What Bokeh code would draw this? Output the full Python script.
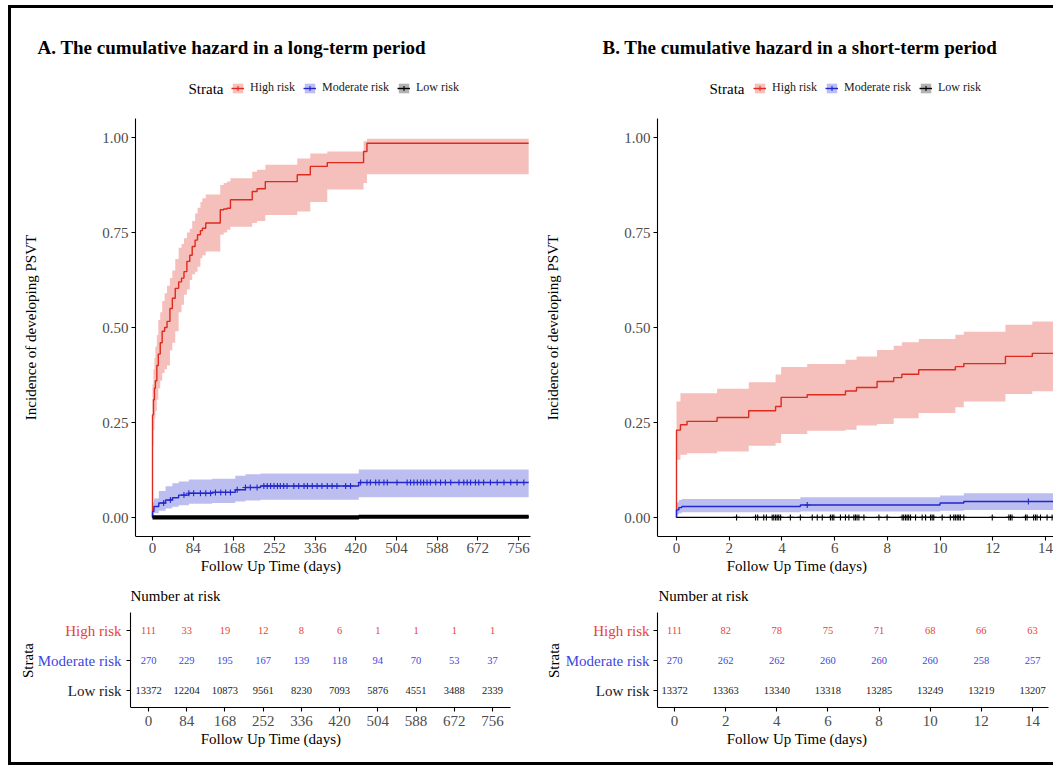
import numpy as np
from bokeh.plotting import figure
from bokeh.layouts import row, column
from bokeh.models import (ColumnDataSource, Label, Legend, LegendItem, FixedTicker,
                          NumeralTickFormatter, Div, Range1d)
from bokeh.core.properties import value
from bokeh.embed import file_html
from bokeh.resources import INLINE

FONT = "Liberation Serif"
STRATA = ["High risk", "Moderate risk", "Low risk"]

# ---------------- Panel A: long-term (days) ----------------
a_high_t = [0, 0, 2, 4, 6, 9, 12, 16, 20, 25, 30, 36, 41, 47, 54, 60, 65, 71, 77, 82,
            88, 93, 99, 103, 110, 140, 147, 154, 161, 206, 216, 233, 299, 326, 361, 436, 443, 777]
a_high_est = [0, 0.27, 0.31, 0.34, 0.36, 0.40, 0.43, 0.46, 0.49, 0.50, 0.516, 0.55, 0.577, 0.603, 0.62, 0.63, 0.647, 0.674, 0.69, 0.713,
              0.73, 0.744, 0.755, 0.761, 0.775, 0.81, 0.812, 0.814, 0.836, 0.858, 0.865, 0.884, 0.902, 0.924, 0.934, 0.963, 0.985, 0.985]
a_high_lo = [0, 0.19, 0.23, 0.26, 0.28, 0.31, 0.34, 0.36, 0.38, 0.39, 0.40, 0.44, 0.46, 0.49, 0.54, 0.56, 0.586, 0.60, 0.625, 0.64,
             0.647, 0.66, 0.682, 0.69, 0.70, 0.744, 0.75, 0.757, 0.765, 0.775, 0.78, 0.796, 0.805, 0.83, 0.863, 0.88, 0.903, 0.903]
a_high_hi = [0, 0.35, 0.39, 0.42, 0.45, 0.48, 0.52, 0.54, 0.57, 0.59, 0.61, 0.63, 0.65, 0.68, 0.71, 0.72, 0.735, 0.75, 0.76, 0.78,
             0.80, 0.815, 0.83, 0.84, 0.85, 0.875, 0.88, 0.884, 0.893, 0.91, 0.915, 0.928, 0.945, 0.958, 0.963, 0.99, 0.997, 0.997]

a_mod_t = [0, 0, 3, 13, 27, 41, 54, 75, 123, 171, 192, 223, 426, 777]
a_mod_est = [0, 0.016, 0.029, 0.038, 0.046, 0.052, 0.059, 0.064, 0.066, 0.073, 0.079, 0.083, 0.092, 0.092]
a_mod_lo = [0, 0.005, 0.011, 0.018, 0.024, 0.028, 0.032, 0.036, 0.038, 0.042, 0.045, 0.047, 0.053, 0.053]
a_mod_hi = [0, 0.04, 0.05, 0.07, 0.082, 0.09, 0.095, 0.10, 0.102, 0.11, 0.114, 0.116, 0.126, 0.126]

a_low_t = [0, 426, 777]
a_low_est = [0.0005, 0.002, 0.002]
a_low_lo = [0.0, 0.0005, 0.0005]
a_low_hi = [0.002, 0.004, 0.004]

a_high_cens = []
a_mod_cens = [23, 37, 65, 75, 85, 99, 110, 120, 130, 141, 151, 161, 175, 192, 202, 216, 230, 237, 244,
              251, 258, 264, 271, 278, 292, 302, 313, 320, 330, 340, 350, 361, 371, 381, 399, 409, 430,
              443, 450, 461, 468, 478, 485, 505, 526, 533, 540, 547, 554, 560, 567, 574, 585, 595, 605,
              616, 633, 643, 650, 657, 667, 674, 684, 698, 712, 726, 740, 753, 767]
a_low_cens = []

a_risk_t = [0, 84, 168, 252, 336, 420, 504, 588, 672, 756]
a_risk_high = [111, 33, 19, 12, 8, 6, 1, 1, 1, 1]
a_risk_mod = [270, 229, 195, 167, 139, 118, 94, 70, 53, 37]
a_risk_low = [13372, 12204, 10873, 9561, 8230, 7093, 5876, 4551, 3488, 2339]

# ---------------- Panel B: short-term (days) ----------------
b_high_t = [0, 0, 0.15, 0.4, 1.54, 2.74, 3.76, 3.97, 4.96, 6.41, 6.83, 7.61, 8.24, 8.55, 9.19, 10.58, 10.9, 12.48, 13.5, 14.3]
b_high_est = [0, 0.23, 0.244, 0.253, 0.263, 0.281, 0.292, 0.316, 0.323, 0.333, 0.342, 0.358, 0.368, 0.377, 0.389, 0.397, 0.405, 0.424, 0.432, 0.432]
b_high_lo = [0, 0.152, 0.165, 0.169, 0.174, 0.189, 0.196, 0.22, 0.228, 0.231, 0.242, 0.246, 0.261, 0.261, 0.275, 0.29, 0.305, 0.325, 0.332, 0.332]
b_high_hi = [0, 0.305, 0.327, 0.327, 0.339, 0.356, 0.376, 0.396, 0.404, 0.415, 0.424, 0.441, 0.452, 0.461, 0.47, 0.481, 0.489, 0.507, 0.516, 0.516]

b_mod_t = [0, 0, 0.09, 0.2, 4.7, 10.0, 10.9, 14.3]
b_mod_est = [0, 0.02, 0.026, 0.029, 0.033, 0.038, 0.042, 0.042]
b_mod_lo = [0, 0.008, 0.011, 0.014, 0.016, 0.018, 0.02, 0.02]
b_mod_hi = [0, 0.04, 0.046, 0.049, 0.053, 0.058, 0.064, 0.064]

b_low_t = [0, 14.3]
b_low_est = [0.0003, 0.0008]
b_low_lo = [0.0, 0.0]
b_low_hi = [0.0015, 0.002]

b_high_cens = []
b_mod_cens = [4.96, 13.35]
b_low_cens = [2.28, 3.0, 3.08, 3.31, 3.41, 3.63, 3.69, 3.76, 3.82, 3.88, 3.95, 4.32, 4.7, 5.15, 5.34,
              5.53, 5.84, 5.91, 5.97, 6.22, 6.41, 6.54, 6.73, 6.79, 6.85, 6.92, 7.11, 7.68, 7.99, 8.56,
              8.62, 8.69, 8.75, 8.81, 8.88, 9.07, 9.32, 9.45, 9.64, 9.7, 9.76, 10.08, 10.39, 10.52, 10.58,
              10.65, 10.71, 10.77, 10.9, 11.98, 12.61, 12.67, 12.73, 13.24, 13.3, 13.55, 13.62, 13.68,
              13.81, 14.06, 14.25]

b_risk_t = [0, 2, 4, 6, 8, 10, 12, 14]
b_risk_high = [111, 82, 78, 75, 71, 68, 66, 63]
b_risk_mod = [270, 262, 262, 260, 260, 260, 258, 257]
b_risk_low = [13372, 13363, 13340, 13318, 13285, 13249, 13219, 13207]

LINE_COLORS = ["#DF2A1F", "#2227CC", "#000000"]
TEXT_COLORS = ["#E6433A", "#3D45E2", "#1A1A1A"]
TICK_COLOR = "#4D4D4D"

# ---------------- layout geometry (page pixels) ----------------
TOP_Y = 8
MAIN_H = 572
RISK_H = 182
MAIN_FRAME_BOTTOM = 536
RISK_FRAME_BOTTOM = 707
PX_PER_UNIT_Y = 380.0
PX_PER_ROW = 30.0


def style_axis(ax):
    ax.axis_line_color = "black"
    ax.axis_line_width = 1.1
    ax.major_tick_line_color = "black"
    ax.major_tick_line_width = 1.1
    ax.major_tick_out = 4
    ax.major_tick_in = 0
    ax.minor_tick_line_color = None
    ax.major_label_text_font = FONT
    ax.major_label_text_font_size = "15px"
    ax.major_label_text_color = TICK_COLOR
    ax.axis_label_text_font = FONT
    ax.axis_label_text_font_size = "15px"
    ax.axis_label_text_font_style = "normal"
    ax.axis_label_text_color = "black"


def step_at(t, est, c):
    t = np.asarray(t, dtype=float)
    idx = np.searchsorted(t, c, side="right") - 1
    return [est[max(i, 0)] for i in idx]


def step_expand(t, lo, hi):
    """Corner points of a right-continuous step band."""
    xs, y1, y2 = [], [], []
    for i in range(len(t) - 1):
        xs += [t[i], t[i + 1]]
        y1 += [lo[i], lo[i]]
        y2 += [hi[i], hi[i]]
    xs.append(t[-1]); y1.append(lo[-1]); y2.append(hi[-1])
    return xs, y1, y2


class Map:
    def __init__(self, col_left, frame_right, zero_px, s, axis_left, bound_right=None):
        self.col_left = col_left
        self.zero_px = zero_px
        self.s = s
        self.xr = ((col_left - zero_px) / s, (frame_right - zero_px) / s)
        self.lo = (axis_left - zero_px) / s
        self.hi = self.xr[1] if bound_right is None else (bound_right - zero_px) / s
        self.frame_w = frame_right - col_left

    def x(self, px):
        return (px - self.zero_px) / self.s


def build_main(title, curves, censors, m, width, xticks, title_px, strata_px, legend_px, thick_low):
    frame_h = MAIN_FRAME_BOTTOM - TOP_Y
    yr = (-0.05, -0.05 + frame_h / PX_PER_UNIT_Y)

    def ypx(py):
        return yr[1] - (py - TOP_Y) / PX_PER_UNIT_Y

    p = figure(width=width, height=MAIN_H, x_range=Range1d(*m.xr), y_range=Range1d(*yr),
               output_backend="svg", toolbar_location=None,
               min_border_left=0, min_border_right=width - m.frame_w,
               min_border_top=0, min_border_bottom=MAIN_H - frame_h,
               background_fill_color="white", border_fill_color="white")
    p.outline_line_color = None
    p.grid.visible = False

    bands, lines, marks = [], [], []
    for c, col in zip(curves, LINE_COLORS):
        xs, y1, y2 = step_expand(c[0], c[2], c[3])
        bands.append(p.varea(x=xs, y1=y1, y2=y2, fill_color=col, fill_alpha=0.3))
    for i, (c, col) in enumerate(zip(curves, LINE_COLORS)):
        s = ColumnDataSource(dict(t=c[0], est=c[1]))
        if i == 2 and thick_low:
            # dense censoring marks of the low-risk stratum merge into a thick band
            p.step(x="t", y="est", mode="after", source=s, line_color=col, line_width=4.2)
        lines.append(p.step(x="t", y="est", mode="after", source=s, line_color=col, line_width=1.4))
    for c, cens, col in zip(curves, censors, LINE_COLORS):
        if len(cens):
            cs = ColumnDataSource(dict(x=cens, y=step_at(c[0], c[1], cens)))
        else:
            # no visible censoring in this view: legend key only
            cs = ColumnDataSource(dict(x=[np.nan], y=[np.nan]))
        marks.append(p.scatter(x="x", y="y", source=cs, marker="cross", size=6,
                               line_color=col, line_width=1.1))

    xa = p.xaxis[0]
    ya = p.yaxis[0]
    for ax in (xa, ya):
        style_axis(ax)
    xa.ticker = FixedTicker(ticks=xticks)
    xa.bounds = (m.lo, m.hi)
    ya.ticker = FixedTicker(ticks=[0, 0.25, 0.5, 0.75, 1.0])
    ya.formatter = NumeralTickFormatter(format="0.00")
    ya.bounds = (-0.05, 1.05)
    ya.fixed_location = m.lo
    xa.axis_label = "Follow Up Time (days)"
    ya.axis_label = "Incidence of developing PSVT"
    xa.major_label_standoff = 2
    xa.axis_label_standoff = 2
    ya.major_label_standoff = 3
    ya.axis_label_standoff = 60

    items = [LegendItem(label=n, renderers=[b, l, mk]) for n, b, l, mk in zip(STRATA, bands, lines, marks)]
    legend = Legend(items=items, orientation="horizontal",
                    location=(legend_px - m.col_left, MAIN_FRAME_BOTTOM - 95),
                    glyph_width=13, glyph_height=12, label_height=12, label_standoff=6,
                    spacing=8, padding=0, margin=0, border_line_color=None,
                    background_fill_alpha=0, label_text_font=FONT, label_text_font_size="12px",
                    label_text_color="#1A1A1A")
    p.add_layout(legend)

    p.add_layout(Label(x=m.x(title_px), y=ypx(47), text=title,
                       text_font=FONT, text_font_size="19px", text_font_style="bold",
                       text_color="black", text_baseline="middle", text_align="left"))
    p.add_layout(Label(x=m.x(strata_px), y=ypx(88), text="Strata",
                       text_font=FONT, text_font_size="15px", text_color="black",
                       text_baseline="middle", text_align="left"))
    return p


def build_risk(times, counts, m, width, xticks, title_px, strata_px, rowlab_px):
    top_abs = TOP_Y + MAIN_H
    frame_h = RISK_FRAME_BOTTOM - top_abs
    # rows: High=3 at y 630, Moderate=2 at 660, Low=1 at 690
    yr = (1 - (RISK_FRAME_BOTTOM - 690) / PX_PER_ROW, 3 + (630 - top_abs) / PX_PER_ROW)

    def ypx(py):
        return yr[1] - (py - top_abs) / PX_PER_ROW

    p = figure(width=width, height=RISK_H, x_range=Range1d(*m.xr), y_range=Range1d(*yr),
               output_backend="svg", toolbar_location=None,
               min_border_left=0, min_border_right=width - m.frame_w,
               min_border_top=0, min_border_bottom=RISK_H - frame_h,
               background_fill_color="white", border_fill_color="white")
    p.outline_line_color = None
    p.grid.visible = False

    xs, ys, txt, cols = [], [], [], []
    for k, (vals, col) in enumerate(zip(counts, TEXT_COLORS)):
        yv = 3 - k
        for t, v in zip(times, vals):
            xs.append(t); ys.append(yv); txt.append(str(v)); cols.append(col)
    src = ColumnDataSource(dict(x=xs, y=ys, text=txt, color=cols))
    p.text(x="x", y="y", text="text", source=src, text_color="color",
           text_font=value(FONT), text_font_size="10.5px", text_align="center",
           text_baseline="middle")

    xa = p.xaxis[0]
    ya = p.yaxis[0]
    for ax in (xa, ya):
        style_axis(ax)
    xa.ticker = FixedTicker(ticks=xticks)
    xa.bounds = (m.lo, m.hi)
    ya.ticker = FixedTicker(ticks=[1, 2, 3])
    ya.major_label_overrides = {1: "", 2: "", 3: ""}
    ya.bounds = (yr[0], ypx(612))
    ya.fixed_location = m.lo
    xa.axis_label = "Follow Up Time (days)"
    xa.major_label_standoff = 4
    xa.axis_label_standoff = 2

    p.add_layout(Label(x=m.x(title_px), y=ypx(595), text="Number at risk",
                       text_font=FONT, text_font_size="15px", text_color="black",
                       text_align="left", text_baseline="middle"))
    for k, (name, col) in enumerate(zip(STRATA, TEXT_COLORS)):
        p.add_layout(Label(x=m.x(rowlab_px), y=3 - k, text=name,
                           text_font=FONT, text_font_size="15px", text_color=col,
                           text_align="right", text_baseline="middle"))
    p.add_layout(Label(x=m.x(strata_px), y=2, text="Strata",
                       angle=90, angle_units="deg", text_font=FONT, text_font_size="15px",
                       text_color="black", text_align="center", text_baseline="middle"))
    return p


COLA_LEFT, COLA_W = 11, 529
COLB_LEFT, COLB_W = 540, 513

# main and risk frames of a column share the same right edge (Bokeh aligns them)
mA = Map(COLA_LEFT, 530, 152, 366 / 756, 135)
rA = Map(COLA_LEFT, 530, 148, 344 / 756, 130, bound_right=510)
mB = Map(COLB_LEFT, 1053, 676, 369 / 14, 657)
rB = Map(COLB_LEFT, 1053, 674, 358 / 14, 657, bound_right=1048)

mainA = build_main("A. The cumulative hazard in a long-term period",
                   [(a_high_t, a_high_est, a_high_lo, a_high_hi),
                    (a_mod_t, a_mod_est, a_mod_lo, a_mod_hi),
                    (a_low_t, a_low_est, a_low_lo, a_low_hi)],
                   [a_high_cens, a_mod_cens, a_low_cens],
                   mA, COLA_W, a_risk_t, 37, 188, 231, True)
riskA = build_risk(a_risk_t, [a_risk_high, a_risk_mod, a_risk_low], rA, COLA_W, a_risk_t,
                   130, 27, 121)

mainB = build_main("B. The cumulative hazard in a short-term period",
                   [(b_high_t, b_high_est, b_high_lo, b_high_hi),
                    (b_mod_t, b_mod_est, b_mod_lo, b_mod_hi),
                    (b_low_t, b_low_est, b_low_lo, b_low_hi)],
                   [b_high_cens, b_mod_cens, b_low_cens],
                   mB, COLB_W, b_risk_t, 602, 709, 753, False)
riskB = build_risk(b_risk_t, [b_risk_high, b_risk_mod, b_risk_low], rB, COLB_W, b_risk_t,
                   658, 553, 649)

bar = {"background-color": "black"}
inner_w = 3 + COLA_W + COLB_W
top_space = Div(text="", width=8 + inner_w, height=5, margin=0)
left_space = Div(text="", width=8, height=3 + MAIN_H + RISK_H + 3, margin=0)
top_bar = Div(text="", width=inner_w, height=3, margin=0, styles=bar)
left_bar = Div(text="", width=3, height=MAIN_H + RISK_H, margin=0, styles=bar)
bottom_bar = Div(text="", width=inner_w, height=3, margin=0, styles=bar)

framed = column(top_bar,
                row(left_bar, column(mainA, riskA), column(mainB, riskB)),
                bottom_bar)
layout = column(top_space, row(left_space, framed))

open("out.html", "w").write(file_html(layout, INLINE, title="Cumulative hazard"))
